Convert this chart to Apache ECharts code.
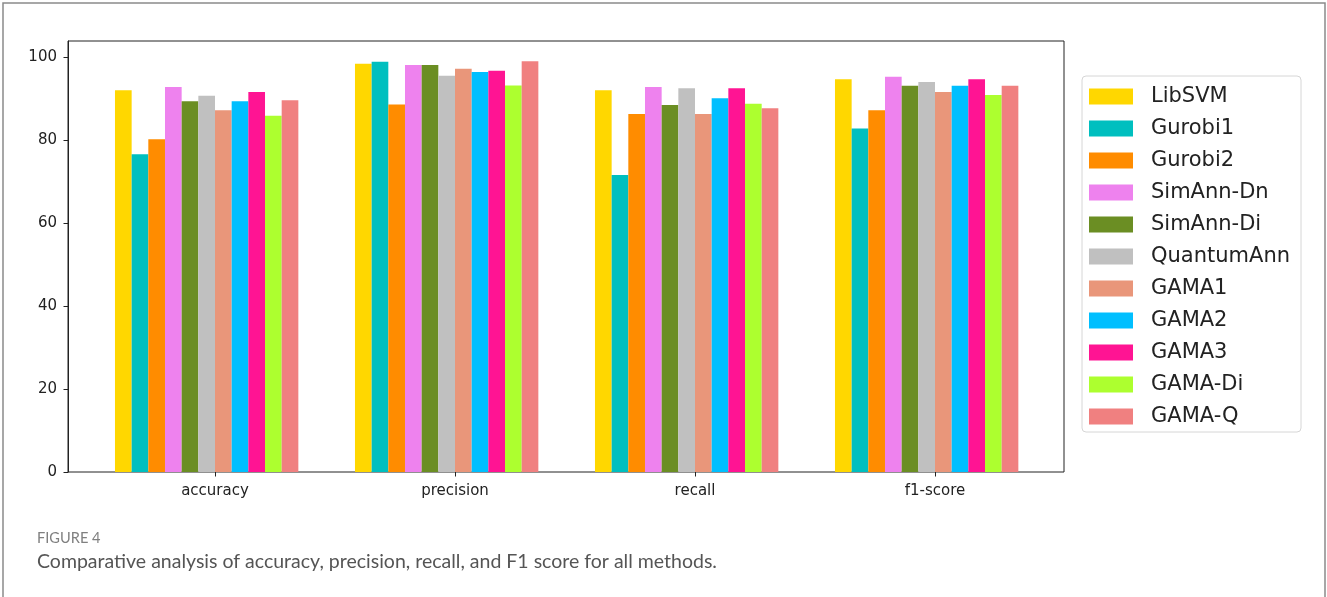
<!DOCTYPE html>
<html>
<head>
<meta charset="utf-8">
<script src="https://cdn.jsdelivr.net/npm/echarts@6/dist/echarts.min.js"></script>
<style>
  html, body { margin: 0; padding: 0; background: #fff; }
  #chart { width: 1327px; height: 597px; }
</style>
</head>
<body>
<div id="chart"></div>
<script>
// Metric categories on the x axis
const categories = ['accuracy', 'precision', 'recall', 'f1-score'];

// Method names, in legend order
const methods = ['LibSVM', 'Gurobi1', 'Gurobi2', 'SimAnn-Dn', 'SimAnn-Di', 'QuantumAnn',
                 'GAMA1', 'GAMA2', 'GAMA3', 'GAMA-Di', 'GAMA-Q'];

// Scores (%) per method: accuracy, precision, recall, f1-score
const libSVM     = [92.0, 98.4, 92.0, 94.7];
const gurobi1    = [76.6, 98.9, 71.6, 82.8];
const gurobi2    = [80.2, 88.6, 86.3, 87.2];
const simAnnDn   = [92.8, 98.1, 92.8, 95.3];
const simAnnDi   = [89.4, 98.1, 88.5, 93.1];
const quantumAnn = [90.7, 95.5, 92.5, 94.0];
const gama1      = [87.2, 97.2, 86.3, 91.6];
const gama2      = [89.4, 96.4, 90.1, 93.1];
const gama3      = [91.6, 96.7, 92.5, 94.7];
const gamaDi     = [85.9, 93.2, 88.8, 90.9];
const gamaQ      = [89.6, 99.0, 87.7, 93.1];

const seriesValues = [libSVM, gurobi1, gurobi2, simAnnDn, simAnnDi, quantumAnn,
                      gama1, gama2, gama3, gamaDi, gamaQ];

const colors = ['#FFD700', '#00BFBF', '#FF8C00', '#EE82EE', '#6B8E23', '#C0C0C0',
                '#E9967A', '#00BFFF', '#FF1493', '#ADFF2F', '#F08080'];

// Y axis tick labels
const yTicks = [0, 20, 40, 60, 80, 100];

const yMax = 103.9;
const barW = 16.67;

const series = methods.map((name, i) => ({
  name: name,
  type: 'bar',
  xAxisIndex: 1,
  yAxisIndex: 1,
  data: seriesValues[i],
  barWidth: barW,
  barGap: '0%',
  itemStyle: { color: colors[i] },
  emphasis: { disabled: true }
}));
// empty trailing slot: keeps the tick between the 6th and 7th bar of each group
series.push({
  name: '_pad',
  type: 'bar',
  xAxisIndex: 1,
  yAxisIndex: 1,
  data: categories.map(() => null),
  barWidth: barW,
  barGap: '0%',
  silent: true
});

const chart = echarts.init(document.getElementById('chart'), null, { renderer: 'canvas' });

chart.setOption({
  animation: false,
  backgroundColor: '#fff',
  textStyle: { fontFamily: 'DejaVu Sans' },
  grid: [
    // axes frame
    { left: 68, top: 41, width: 996, height: 431, show: true, borderColor: '#222', borderWidth: 1, backgroundColor: 'transparent' },
    // bar area, with margins inside the frame
    { left: 95, top: 41, width: 960, height: 431 }
  ],
  xAxis: [
    {
      gridIndex: 0, type: 'value', min: 0, max: 1,
      axisLine: { show: false }, axisTick: { show: false },
      axisLabel: { show: false }, splitLine: { show: false }
    },
    {
      gridIndex: 1, type: 'category', data: categories,
      axisLine: { show: false },
      axisTick: { show: true, alignWithLabel: true, length: 4.5, lineStyle: { color: '#222', width: 1 } },
      axisLabel: { color: '#222', fontSize: 15, margin: 12, fontFamily: 'DejaVu Sans' },
      splitLine: { show: false }
    }
  ],
  yAxis: [
    {
      gridIndex: 0, type: 'value', min: 0, max: yMax, interval: 20,
      axisLine: { show: true, lineStyle: { color: '#222', width: 1 } },
      axisTick: { show: true, length: 4.5, lineStyle: { color: '#222' }, customValues: yTicks },
      axisLabel: {
        color: '#222', fontSize: 15, margin: 11, fontFamily: 'DejaVu Sans',
        customValues: yTicks,
        formatter: v => (yTicks.indexOf(v) >= 0 ? String(v) : '')
      },
      splitLine: { show: false }
    },
    {
      gridIndex: 1, type: 'value', min: 0, max: yMax, show: false,
      splitLine: { show: false }
    }
  ],
  legend: {
    data: methods,
    orient: 'vertical',
    left: 1082,
    top: 76,
    icon: 'rect',
    itemWidth: 44,
    itemHeight: 16,
    itemGap: 11,
    padding: [10, 11, 5, 7],
    backgroundColor: '#fff',
    borderColor: '#d6d6d6',
    borderWidth: 1,
    borderRadius: 4,
    selectedMode: false,
    textStyle: {
      color: '#222', fontSize: 21, lineHeight: 16, fontFamily: 'DejaVu Sans',
      padding: [0, 0, 0, 13]
    }
  },
  graphic: [
    {
      type: 'rect', silent: true,
      shape: { x: 3, y: 3, width: 1322, height: 640 },
      style: { fill: 'none', stroke: '#8a8a8a', lineWidth: 1.5 }
    },
    {
      type: 'text', left: 37, top: 531, silent: true,
      style: { text: 'FIGURE 4', fill: '#808080', font: '14.6px Lato' }
    },
    {
      type: 'text', left: 37, top: 552, silent: true,
      style: { text: 'Comparative analysis of accuracy, precision, recall, and F1 score for all methods.', fill: '#555', font: '19.5px Lato' }
    }
  ],
  series: series
});
</script>
</body>
</html>
